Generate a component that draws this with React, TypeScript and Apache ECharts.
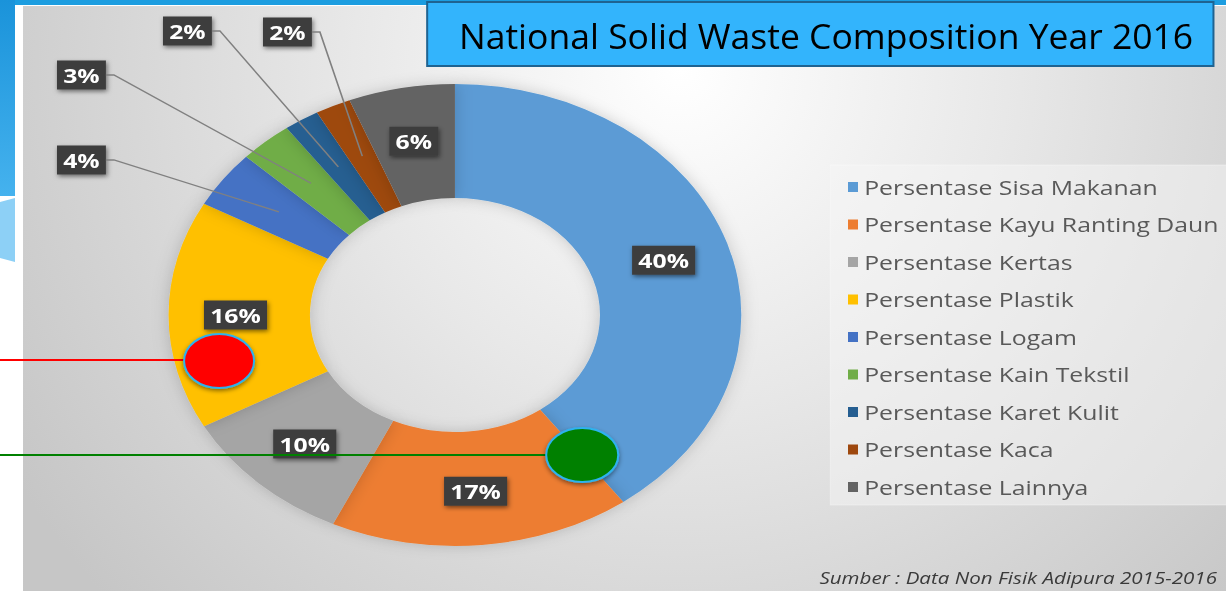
import React, { useEffect, useRef } from "react";
import * as echarts from "echarts";

const categories = [
  "Persentase Sisa Makanan",
  "Persentase Kayu Ranting Daun",
  "Persentase Kertas",
  "Persentase Plastik",
  "Persentase Logam",
  "Persentase Kain Tekstil",
  "Persentase Karet Kulit",
  "Persentase Kaca",
  "Persentase Lainnya",
];
const values = [40, 17, 10, 16, 4, 3, 2, 2, 6];
const colors = ["#5B9BD5", "#ED7D31", "#A5A5A5", "#FFC000", "#4472C4", "#70AD47", "#255E91", "#9E480E", "#636363"];
const titleText = "National Solid Waste Composition Year 2016";
const sourceText = "Sumber : Data Non Fisik Adipura 2015-2016";

const W = 1226;
const H = 591;
const CW = 989;
const S = W / CW;
const CX = 367;
const CY = 315;
const R0 = 117;
const R1 = 231;

// outside label box anchors (real px: left edge, vertical centre)
const outsideLabelPos: Record<number, [number, number]> = {
  4: [57, 160],
  5: [57, 75],
  6: [163, 31],
  7: [263, 32],
};

export default function App() {
  const ref = useRef<HTMLDivElement>(null);
  useEffect(() => {
    if (!ref.current) return;
    const chart = echarts.init(ref.current, undefined, { renderer: "svg" });
    const total = values.reduce((a, b) => a + b, 0);
    const leaderPts: Record<number, number[][]> = {};
    const pieData = categories.map((name, i) => ({
      name,
      value: values[i],
      itemStyle: { color: colors[i] },
      label: { position: values[i] < 5 ? "outside" : "inside" },
    }));

    const bgGrad = new echarts.graphic.RadialGradient(
      680, 70, 780,
      [
        { offset: 0, color: "#ffffff" },
        { offset: 0.42, color: "#e8e8e8" },
        { offset: 0.72, color: "#d6d6d6" },
        { offset: 1, color: "#c6c6c6" },
      ],
      true
    );

    const baseElements: any[] = [
      {
        id: "bg",
        type: "group",
        x: 0,
        y: 0,
        scaleX: 1 / S,
        children: [
          { type: "rect", z: -10, shape: { x: 23, y: 6, width: 1203, height: 585 }, style: { fill: bgGrad } },
          { type: "rect", z: -9, shape: { x: 0, y: 0, width: 1226, height: 5 }, style: { fill: "#1C9DE0" } },
          {
            type: "rect",
            z: -9,
            shape: { x: 0, y: 0, width: 15, height: 196 },
            style: {
              fill: new echarts.graphic.LinearGradient(0, 0, 0, 1, [
                { offset: 0, color: "#1A93DA" },
                { offset: 1, color: "#45B2EE" },
              ]),
            },
          },
          {
            type: "polygon",
            z: -9,
            shape: { points: [[0, 202], [15, 198], [15, 262], [0, 258]] },
            style: { fill: "#8DD0F6" },
          },
          { type: "rect", z: -8, shape: { x: 830, y: 165, width: 396, height: 340 }, style: { fill: "rgba(246,246,246,0.5)", stroke: "rgba(255,255,255,0.35)", lineWidth: 1 } },
        ],
      },
      {
        id: "overlay",
        type: "group",
        x: 0,
        y: 0,
        scaleX: 1 / S,
        children: [
          {
            type: "rect",
            z: 50,
            shape: { x: 427, y: 2, width: 786, height: 64 },
            style: { fill: "#33B4FC", stroke: "#1F6391", lineWidth: 2 },
          },
          {
            type: "text",
            z: 51,
            x: 459,
            y: 35,
            style: {
              text: titleText,
              fill: "#000000",
              fontSize: 35.5,
              fontFamily: "Open Sans",
              textAlign: "left",
              textVerticalAlign: "middle",
            },
          },
          { type: "line", z: 50, shape: { x1: 0, y1: 360, x2: 184, y2: 360 }, style: { stroke: "#FF0000", lineWidth: 2 } },
          { type: "line", z: 50, shape: { x1: 0, y1: 455, x2: 547, y2: 455 }, style: { stroke: "#008000", lineWidth: 2 } },
          {
            type: "ellipse",
            z: 51,
            shape: { cx: 219, cy: 361, rx: 35, ry: 27 },
            style: { fill: "#FF0000", stroke: "#2DB2EE", lineWidth: 2, shadowBlur: 4, shadowOffsetY: 2, shadowColor: "rgba(0,0,0,0.45)" },
          },
          {
            type: "ellipse",
            z: 51,
            shape: { cx: 582, cy: 455, rx: 36, ry: 27 },
            style: { fill: "#008000", stroke: "#2DB2EE", lineWidth: 2, shadowBlur: 4, shadowOffsetY: 2, shadowColor: "rgba(0,0,0,0.45)" },
          },
        ],
      },
      {
        id: "source",
        type: "text",
        z: 20,
        x: 1217 / S,
        y: 577,
        style: {
          text: sourceText,
          fill: "#3a3a3a",
          fontSize: 16.6,
          fontStyle: "italic",
          fontFamily: "Open Sans",
          textAlign: "right",
          textVerticalAlign: "middle",
        },
      },
    ];

    chart.setOption({
      animation: false,
      graphic: { elements: baseElements },
      legend: {
        orient: "vertical",
        left: 848 / S,
        top: 176,
        padding: 0,
        itemWidth: 10 / S,
        itemHeight: 10,
        itemGap: 15.5,
        icon: "rect",
        selectedMode: false,
        data: categories,
        textStyle: { fontFamily: "Open Sans", fontSize: 20, color: "#595959", lineHeight: 22 },
      },
      series: [
        {
          type: "pie",
          center: [CX, CY],
          radius: [R0, R1],
          startAngle: 90,
          clockwise: true,
          avoidLabelOverlap: false,
          silent: true,
          data: pieData,
          itemStyle: { borderWidth: 0, shadowBlur: 14, shadowColor: "rgba(0,0,0,0.18)" },
          label: {
            formatter: (p: any) => `${p.value}%`,
            color: "#ffffff",
            fontWeight: "bold",
            fontSize: 20,
            fontFamily: "Open Sans",
            lineHeight: 21,
            backgroundColor: "#3d3d3d",
            padding: [4, 5],
            shadowBlur: 4,
            shadowColor: "rgba(0,0,0,0.5)",
            shadowOffsetX: 1,
            shadowOffsetY: 2,
          },
          labelLine: { show: false },
          labelLayout: (params: any) => {
            const idx = params.dataIndex;
            const pos = outsideLabelPos[idx];
            if (!pos) return {};
            let before = 0;
            for (let i = 0; i < idx; i++) before += values[i];
            const mid = ((before + values[idx] / 2) / total) * Math.PI * 2;
            const rr = R1 * 0.76;
            const px = CX + rr * Math.sin(mid);
            const py = CY - rr * Math.cos(mid);
            const lx = pos[0] / S;
            const ly = pos[1];
            const w = params.labelRect.width;
            leaderPts[idx] = [
              [lx + w, ly],
              [lx + w + 8 / S, ly],
              [px, py],
            ];
            return { x: lx, y: ly, align: "left", verticalAlign: "middle" };
          },
          emphasis: { disabled: true },
        },
      ],
    });

    const leaderEls = Object.keys(leaderPts).map((k) => ({
      id: "leader" + k,
      type: "polyline",
      z: 10,
      shape: { points: leaderPts[Number(k)] },
      style: { stroke: "#808080", lineWidth: 1.3, fill: null },
    }));
    chart.setOption({ graphic: { elements: leaderEls } });

    return () => chart.dispose();
  }, []);

  return (
    <div style={{ position: "fixed", left: 0, top: 0, width: W, height: H, overflow: "hidden", background: "#ffffff" }}>
      <div ref={ref} style={{ width: CW, height: H, transform: `scaleX(${S})`, transformOrigin: "0 0" }} />
    </div>
  );
}
